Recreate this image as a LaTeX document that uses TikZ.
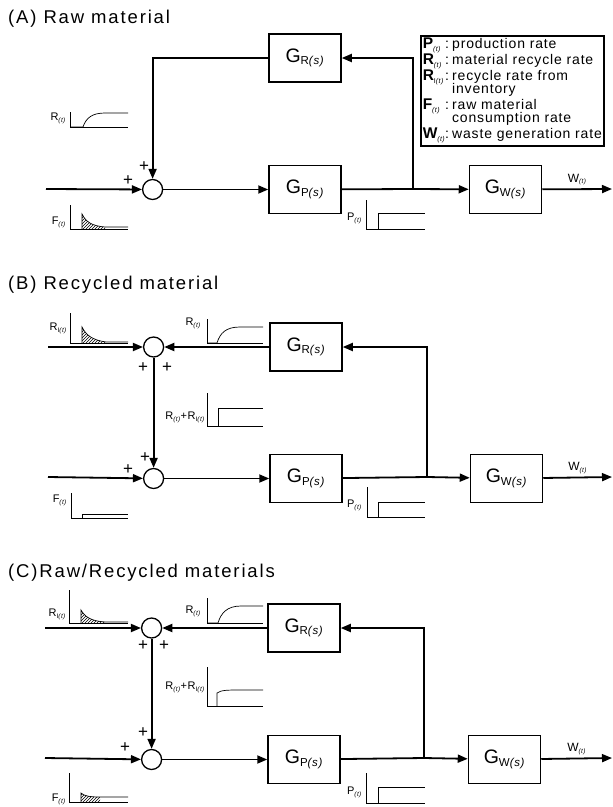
\documentclass[tikz,border=0pt]{standalone}
\usepackage{fontspec}
\setmainfont{Liberation Sans}
\newfontfamily\titlefont{Liberation Sans}[LetterSpace=10]
\newfontfamily\lblfont{Liberation Sans}[LetterSpace=6]
\usetikzlibrary{arrows.meta,positioning,patterns}

\newcommand{\gain}[1]{G\raisebox{-2.5pt}{\fontsize{11.5}{12}\selectfont #1\textit{(s)}}}
\newcommand{\ratesym}[2][]{#2\raisebox{-1.8pt}{\fontsize{6.5}{6.5}\selectfont #1\textit{(t)}}}
\newcommand{\keysym}[2][]{{\fontsize{15.5}{16}\selectfont\bfseries #2}\raisebox{-2.5pt}{\fontsize{7}{7}\selectfont #1\textit{(t)}}}

\begin{document}
\begin{tikzpicture}[
    x=1pt, y=-1pt,
    gbox/.style={rectangle, draw, line width=1.5pt, minimum width=72pt,
                 minimum height=48pt, inner sep=0pt, font=\lblfont\fontsize{19.5}{20}\selectfont},
    sumpt/.style={circle, draw, line width=1.3pt, minimum size=20pt, inner sep=0pt},
    wire/.style={line width=1.8pt},
    arr/.style={wire, -{Triangle[length=10pt,width=8pt]}},
    curve/.style={line width=0.7pt},
    hatch/.style={pattern=north east lines},
    sign/.style={inner sep=0pt, font=\lblfont\fontsize{17}{17}\selectfont},
    ratelbl/.style={anchor=east, inner sep=0pt, font=\lblfont\fontsize{11}{11}\selectfont},
    outlbl/.style={above, inner sep=3pt, font=\lblfont\fontsize{12}{12}\selectfont},
    panel/.style={anchor=west, inner sep=0pt, font=\titlefont\fontsize{18.5}{20}\selectfont},
    key/.style={draw, line width=1.5pt, anchor=north west, inner sep=2pt,
                font=\lblfont\fontsize{14}{16}\selectfont},
]
    \useasboundingbox (0,0) rectangle (613,807);

    % (A) raw material
    \node[panel] (titleA) at (8,19) {(A) Raw material};
    \node[gbox] (grA) at (305,58) {\gain{R}};
    \node[gbox, below=82pt of grA] (gpA) {\gain{P}};
    \node[sumpt, left=105pt of gpA] (sA) {};
    \node[gbox, right=127pt of gpA] (gwA) {\gain{W}};
    \coordinate (inA) at (46,189);
    \coordinate (brA) at (413,189);
    \coordinate (outA) at (612,189);

    \draw[arr] (inA) -- (sA);
    \draw[arr] (sA) -- (gpA);
    \draw[wire] (gpA) -- (brA);
    \draw[arr] (brA) -- (gwA);
    \draw[arr] (brA) |- (grA);
    \draw[arr] (grA) -| (sA);
    \draw[arr] (gwA) -- node[outlbl] (wA) {\ratesym{W}} (outA);

    \node[sign] (plusA1) at (128,181) {+};
    \node[sign] (plusA2) at (144,167) {+};

    \node[key] (keyA) at (420,35) {\begin{tabular}{@{}l@{}l@{\hspace{3pt}}l@{}}
        \keysym{P} & : & production rate\\
        \keysym{R} & : & material recycle rate\\
        \keysym[I]{R} & : & recycle rate from\\[-3pt]
         & & inventory\\
        \keysym{F} & : & raw material\\[-3pt]
         & & consumption rate\\
        \keysym{W} & : & waste generation rate
    \end{tabular}};

    \node[ratelbl] (lblRA) at (66,118) {\ratesym{R}};
    \draw[curve] (70,112) |- (128,127);
    \draw[curve] (70,127) -- (83,127) .. controls (86,118) and (92,113) .. (105,113) -- (128,113);
    \node[ratelbl] (lblFA) at (66,222) {\ratesym{F}};
    \draw[curve] (70,205) |- (128,229);
    \fill[hatch] (82,229) -- (82,214) .. controls (86,222) and (92,226) .. (105,227) -- (105,229) -- cycle;
    \draw[curve] (82,229) -- (82,214) .. controls (86,222) and (92,226) .. (105,227) -- (128,227);
    \node[ratelbl] (lblPA) at (362,218) {\ratesym{P}};
    \draw[curve] (366,200) |- (425,229);
    \draw[curve] (378,229) |- (425,213);

    % (B) recycled material
    \node[panel] (titleB) at (8,285) {(B) Recycled material};
    \node[gbox] (grB) at (306,347) {\gain{R}};
    \node[gbox, below=82pt of grB] (gpB) {\gain{P}};
    \node[sumpt, left=105pt of grB] (sB1) {};
    \node[sumpt, left=105pt of gpB] (sB2) {};
    \node[gbox, right=127pt of gpB] (gwB) {\gain{W}};
    \coordinate (inB1) at (48,347);
    \coordinate (inB2) at (48,477);
    \coordinate (brB) at (427,477);
    \coordinate (outB) at (612,477);

    \draw[arr] (inB1) -- (sB1);
    \draw[arr] (grB) -- (sB1);
    \draw[arr] (sB1) -- (sB2);
    \draw[arr] (inB2) -- (sB2);
    \draw[arr] (sB2) -- (gpB);
    \draw[wire] (gpB) -- (brB);
    \draw[arr] (brB) -- (gwB);
    \draw[arr] (brB) |- (grB);
    \draw[arr] (gwB) -- node[outlbl] (wB) {\ratesym{W}} (outB);

    \node[sign] (plusB1) at (143,368) {+};
    \node[sign] (plusB2) at (167,368) {+};
    \node[sign] (plusB3) at (145,458) {+};
    \node[sign] (plusB4) at (128,470) {+};

    \node[ratelbl] (lblRIB) at (67,328) {\ratesym[I]{R}};
    \draw[curve] (70,313) |- (128,343);
    \fill[hatch] (82,343) -- (82,327) .. controls (86,335) and (92,340) .. (106,342) -- (106,343) -- cycle;
    \draw[curve] (82,343) -- (82,327) .. controls (86,335) and (92,340) .. (106,342) -- (128,342);
    \node[ratelbl] (lblRB) at (201,323) {\ratesym{R}};
    \draw[curve] (207,319) |- (263,343);
    \draw[curve] (207,343) -- (217,343) .. controls (220,333) and (226,327) .. (240,327) -- (263,327);
    \node[ratelbl] (lblSB) at (205,417) {\ratesym{R}+\ratesym[I]{R}};
    \draw[curve] (207,393) |- (263,426);
    \draw[curve] (218,426) |- (263,408);
    \node[ratelbl] (lblFB) at (67,500) {\ratesym{F}};
    \draw[curve] (71,493) |- (128,518);
    \draw[curve] (82,518) |- (128,514);
    \node[ratelbl] (lblPB) at (362,505) {\ratesym{P}};
    \draw[curve] (367,487) |- (425,517);
    \draw[curve] (378,517) |- (425,502);

    % (C) raw/recycled materials
    \node[panel] (titleC) at (8,573) {(C)Raw/Recycled materials};
    \node[gbox] (grC) at (304,628) {\gain{R}};
    \node[gbox, below=82pt of grC] (gpC) {\gain{P}};
    \node[sumpt, left=105pt of grC] (sC1) {};
    \node[sumpt, left=105pt of gpC] (sC2) {};
    \node[gbox, right=127pt of gpC] (gwC) {\gain{W}};
    \coordinate (inC1) at (45,628);
    \coordinate (inC2) at (45,758);
    \coordinate (brC) at (424,758);
    \coordinate (outC) at (612,758);

    \draw[arr] (inC1) -- (sC1);
    \draw[arr] (grC) -- (sC1);
    \draw[arr] (sC1) -- (sC2);
    \draw[arr] (inC2) -- (sC2);
    \draw[arr] (sC2) -- (gpC);
    \draw[wire] (gpC) -- (brC);
    \draw[arr] (brC) -- (gwC);
    \draw[arr] (brC) |- (grC);
    \draw[arr] (gwC) -- node[outlbl] (wC) {\ratesym{W}} (outC);

    \node[sign] (plusC1) at (143,646) {+};
    \node[sign] (plusC2) at (164,646) {+};
    \node[sign] (plusC3) at (143,733) {+};
    \node[sign] (plusC4) at (125,748) {+};

    \node[ratelbl] (lblRIC) at (66,614) {\ratesym[I]{R}};
    \draw[curve] (69,590) |- (128,623);
    \fill[hatch] (81,623) -- (81,610) .. controls (85,617) and (91,621) .. (105,622) -- (105,623) -- cycle;
    \draw[curve] (81,623) -- (81,610) .. controls (85,617) and (91,621) .. (105,622) -- (128,622);
    \node[ratelbl] (lblRC) at (201,611) {\ratesym{R}};
    \draw[curve] (207,598) |- (263,623);
    \draw[curve] (207,623) -- (218,623) .. controls (221,613) and (227,606) .. (241,606) -- (263,606);
    \node[ratelbl] (lblSC) at (205,687) {\ratesym{R}+\ratesym[I]{R}};
    \draw[curve] (207,667) |- (263,706);
    \draw[curve] (217,706) -- (217,693) .. controls (221,690) and (228,690) .. (240,690) -- (263,690);
    \node[ratelbl] (lblFC) at (66,799) {\ratesym{F}};
    \draw[curve] (69,773) |- (128,802);
    \fill[hatch] (81,802) -- (81,793) .. controls (84,796) and (90,797) .. (100,797) -- (100,802) -- cycle;
    \draw[curve] (81,802) -- (81,793) .. controls (84,796) and (90,797) .. (100,797) -- (128,797);
    \node[ratelbl] (lblPC) at (362,792) {\ratesym{P}};
    \draw[curve] (366,773) |- (425,803);
    \draw[curve] (378,803) |- (425,787);
\end{tikzpicture}
\end{document}
